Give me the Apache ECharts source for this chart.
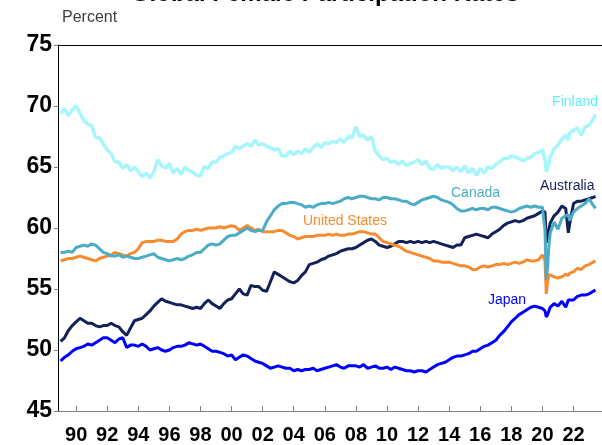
<!DOCTYPE html>
<html>
<head>
<meta charset="utf-8">
<script src="https://cdn.jsdelivr.net/npm/echarts@6/dist/echarts.min.js"></script>
<style>
  html, body { margin: 0; padding: 0; background: #fff; }
  #chart { width: 602px; height: 445px; }
</style>
</head>
<body>
<div id="chart"></div>
<script>
// sample months: quarterly to 2019, denser around the covid drop
const tailDates = ['2020-01', '2020-03', '2020-04', '2020-05', '2020-06', '2020-07', '2020-10',
  '2021-01', '2021-04', '2021-07', '2021-09', '2021-10',
  '2022-01', '2022-04', '2022-07', '2022-10',
  '2023-01', '2023-04', '2023-06']
const dates = []
for (let y = 1989; y <= 2019; y++) {
  ['01', '04', '07', '10'].forEach(m => dates.push(y + '-' + m))
}
tailDates.forEach(d => dates.push(d))

const finland = [
  69.4, 69.8, 69.2, 69.7,  70.0, 69.4, 68.8, 68.5,  68.4, 67.4, 67.4, 66.9,  66.4, 66.1, 65.4, 65.4,
  64.9, 65.2, 64.7, 65.0,  64.6, 64.2, 64.5, 64.1,  64.6, 65.6, 65.1, 64.9,  65.3, 64.5, 64.9, 64.4,
  65.0, 64.7, 64.6, 64.3,  64.3, 65.0, 64.9, 65.4,  65.4, 65.8, 65.9, 66.1,  66.2, 66.7, 66.5, 66.7,
  66.9, 66.7, 67.2, 66.8,  66.9, 66.7, 66.6, 66.4,  66.5, 65.9, 65.9, 66.3,  66.0, 66.3, 66.1, 66.5,
  66.2, 66.6, 66.9, 66.6,  67.0, 66.9, 67.1, 67.0,  67.3, 67.0, 67.5, 67.4,  68.3, 67.5, 67.6, 67.2,
  67.5, 66.3, 65.9, 65.6,  65.7, 65.4, 65.5, 65.2,  65.5, 65.1, 65.3, 65.4,  65.6, 65.2, 65.5, 64.9,
  64.8, 65.2, 64.9, 65.0,  65.0, 64.7, 65.0, 64.6,  65.1, 64.5, 64.9, 64.3,  64.9, 64.5, 65.0, 64.9,
  65.2, 65.4, 65.7, 65.7,  65.9, 65.8, 65.7, 65.5,  65.7, 65.8, 66.1, 66.2,
  66.4, 65.6, 64.6, 64.9, 65.3, 65.8, 66.5,
  66.8, 67.3, 67.6, 67.2, 67.8,
  68.0, 68.2, 67.6, 68.3,
  68.4, 68.9, 69.3
]
const canada = [
  58.0, 58.0, 58.1, 58.0,  58.4, 58.5, 58.6, 58.5,  58.7, 58.6, 58.3, 58.0,  57.9, 57.7, 57.7, 57.8,
  57.6, 57.7, 57.6, 57.5,  57.5, 57.6, 57.7, 57.8,  57.9, 57.6, 57.5, 57.4,  57.3, 57.4, 57.5, 57.4,
  57.5, 57.7, 57.8, 58.0,  58.0, 58.3, 58.6, 58.7,  58.6, 58.7, 59.0, 59.3,  59.4, 59.4, 59.6, 59.8,
  60.0, 59.8, 59.7, 59.8,  59.8, 60.5, 61.0, 61.5,  61.8, 62.0, 62.0, 62.1,  62.1, 62.0, 61.9, 61.7,
  61.8, 61.7, 61.9, 62.0,  62.0, 62.1, 62.0, 62.1,  62.2, 62.4, 62.5, 62.4,  62.5, 62.6, 62.6, 62.5,
  62.4, 62.4, 62.3, 62.5,  62.5, 62.4, 62.4, 62.3,  62.2, 62.2, 62.0, 61.9,  62.1, 62.3, 62.4, 62.5,
  62.6, 62.5, 62.3, 62.2,  62.1, 61.9, 61.6, 61.4,  61.4, 61.5, 61.6, 61.5,  61.6, 61.6, 61.5, 61.7,
  61.7, 61.6, 61.5, 61.4,  61.3, 61.4, 61.6, 61.7,  61.8, 61.7, 61.8, 61.7,
  61.7, 59.8, 55.8, 56.8, 58.6, 59.6, 60.5,
  59.9, 60.8, 61.0, 61.1, 60.6,
  61.3, 61.6, 61.8, 62.0,
  62.4, 61.9, 61.6
]
const australia = [
  50.7, 51.0, 51.6, 52.0,  52.3, 52.6, 52.4, 52.2,  52.2, 52.0, 51.9, 52.0,  52.0, 52.2, 52.0, 51.9,
  51.5, 51.2, 51.8, 52.4,  52.5, 52.6, 52.9, 53.2,  53.6, 53.9, 54.2, 54.0,  53.9, 53.8, 53.7, 53.7,
  53.6, 53.5, 53.4, 53.5,  53.4, 53.8, 54.1, 53.8,  53.6, 53.4, 53.8, 54.1,  54.2, 54.6, 55.0, 54.6,
  54.5, 55.3, 55.2, 55.2,  54.9, 54.8, 55.6, 56.4,  56.2, 56.0, 55.8, 55.6,  55.5, 55.7, 56.1, 56.4,
  57.0, 57.1, 57.2, 57.4,  57.5, 57.7, 57.8, 57.9,  58.1, 58.2, 58.3, 58.3,  58.4, 58.6, 58.8, 59.0,
  59.1, 58.9, 58.6, 58.5,  58.4, 58.5, 58.7, 58.9,  58.9, 58.8, 58.9, 58.8,  58.9, 58.8, 58.9, 58.8,
  58.9, 58.8, 58.7, 58.6,  58.5, 58.4, 58.6, 58.6,  59.2, 59.3, 59.4, 59.5,  59.4, 59.3, 59.2, 59.5,
  59.7, 59.9, 60.2, 60.4,  60.5, 60.6, 60.5, 60.6,  60.8, 60.9, 61.0, 61.2,
  61.4, 61.3, 58.8, 58.7, 59.9, 60.4, 61.0,
  61.3, 61.8, 61.6, 59.6, 60.3,
  62.0, 62.2, 62.2, 62.3,
  62.4, 62.5, 62.6
]
const unitedStates = [
  57.3, 57.4, 57.5, 57.5,  57.6, 57.7, 57.6, 57.5,  57.4, 57.3, 57.5, 57.6,  57.7, 57.8, 58.0, 57.9,
  57.8, 57.7, 57.9, 58.0,  58.3, 58.8, 58.9, 58.9,  58.9, 59.0, 59.0, 58.9,  58.9, 58.9, 59.1, 59.5,
  59.7, 59.8, 59.8, 59.9,  59.8, 59.9, 60.0, 60.0,  60.0, 60.1, 60.0, 60.1,  60.2, 60.1, 59.8, 60.0,
  60.2, 60.0, 59.8, 59.9,  59.7, 59.7, 59.7, 59.7,  59.8, 59.8, 59.6, 59.4,  59.3, 59.1, 59.2, 59.3,
  59.3, 59.3, 59.4, 59.4,  59.4, 59.5, 59.4, 59.5,  59.4, 59.4, 59.5, 59.5,  59.6, 59.7, 59.7, 59.6,
  59.5, 59.5, 59.2, 58.9,  58.8, 58.7, 58.6, 58.5,  58.3, 58.1, 58.0, 57.9,  57.8, 57.7, 57.6, 57.5,
  57.3, 57.3, 57.2, 57.2,  57.2, 57.1, 57.0, 56.9,  56.9, 56.8, 56.6, 56.6,  56.8, 56.9, 56.8, 56.9,
  57.0, 57.0, 57.1, 57.0,  57.1, 57.2, 57.1, 57.2,  57.4, 57.3, 57.3, 57.4,
  57.8, 57.3, 54.6, 55.6, 56.2, 56.1, 56.0,
  55.9, 56.0, 56.2, 56.1, 56.3,
  56.4, 56.7, 56.6, 56.9,
  57.0, 57.2, 57.3
]
const japan = [
  49.1, 49.4, 49.6, 49.9,  50.1, 50.2, 50.3, 50.5,  50.4, 50.6, 50.8, 51.0,  51.0, 50.8, 50.6, 50.9,
  51.0, 50.2, 50.4, 50.4,  50.3, 50.5, 50.3, 50.0,  50.1, 50.2, 50.0, 49.9,  50.0, 50.2, 50.3, 50.3,
  50.4, 50.6, 50.5, 50.4,  50.5, 50.3, 50.1, 49.9,  49.9, 49.8, 49.7, 49.5,  49.6, 49.2, 49.4, 49.6,
  49.5, 49.3, 49.1, 49.0,  48.9, 48.7, 48.5, 48.6,  48.7, 48.6, 48.5, 48.5,  48.3, 48.4, 48.3, 48.4,
  48.4, 48.5, 48.3, 48.4,  48.5, 48.6, 48.7, 48.8,  48.6, 48.5, 48.7, 48.7,  48.7, 48.6, 48.8, 48.5,
  48.6, 48.7, 48.5, 48.5,  48.6, 48.4, 48.6, 48.5,  48.4, 48.3, 48.3, 48.2,  48.3, 48.3, 48.2, 48.4,
  48.6, 48.8, 48.9, 49.0,  49.2, 49.4, 49.5, 49.5,  49.6, 49.7, 49.9, 49.9,  50.1, 50.3, 50.4, 50.6,
  50.8, 51.2, 51.5, 51.9,  52.3, 52.6, 52.9, 53.1,  53.3, 53.5, 53.6, 53.5,
  53.4, 53.2, 52.7, 52.9, 53.2, 53.5, 53.8,
  53.6, 54.0, 53.5, 54.1, 54.2,
  54.1, 54.4, 54.5, 54.5,
  54.6, 54.8, 54.9
]

const yTicks = [45, 50, 55, 60, 65, 70, 75]

// monthly category axis, Nov 1988 to Nov 2023
const months = []
for (let y = 1988; y <= 2023; y++) {
  for (let m = 1; m <= 12; m++) {
    if ((y === 1988 && m < 11) || (y === 2023 && m > 11)) continue
    months.push(y + '-' + (m < 10 ? '0' + m : m))
  }
}

function pairs(values) {
  return dates.map((d, i) => [d, values[i]])
}

function isLabelMonth(index, value) {
  return value.slice(5) === '01' && Number(value.slice(0, 4)) % 2 === 0
}

const chartDom = document.getElementById('chart')
const myChart = echarts.init(chartDom)
const font = 'Liberation Sans, Arial, sans-serif'

function makeLine(name, values, color, width) {
  return {
    name: name,
    type: 'line',
    data: pairs(values),
    symbol: 'none',
    lineStyle: {color: color, width: width},
    itemStyle: {color: color}
  }
}

function label(x, y, text, color, align) {
  return {
    type: 'text', x: x, y: y, silent: true,
    style: {text: text, fill: color, font: '14px ' + font, align: align || 'left', verticalAlign: 'middle'}
  }
}

const option = {
  animation: false,
  textStyle: {fontFamily: font},
  grid: {left: 58, right: 0, top: 45, bottom: 33},
  xAxis: [
    {
      type: 'category',
      data: months,
      boundaryGap: false,
      axisLine: {lineStyle: {color: '#808080', width: 1}},
      axisTick: {inside: true, length: 5, interval: isLabelMonth, lineStyle: {color: '#808080'}},
      axisLabel: {
        interval: isLabelMonth,
        formatter: value => value.slice(2, 4),
        color: '#000',
        fontWeight: 'bold',
        fontSize: 20,
        margin: 14
      },
      splitLine: {show: false}
    },
    {
      type: 'category',
      data: months,
      boundaryGap: false,
      position: 'top',
      axisLine: {lineStyle: {color: '#000', width: 1}},
      axisTick: {show: false},
      axisLabel: {show: false}
    }
  ],
  yAxis: {
    type: 'value',
    min: yTicks[0],
    max: yTicks[yTicks.length - 1],
    interval: 5,
    axisLine: {show: true, lineStyle: {color: '#000'}},
    axisTick: {show: true, length: 4, lineStyle: {color: '#808080'}},
    axisLabel: {color: '#000', fontWeight: 'bold', fontSize: 23, margin: 6},
    splitLine: {show: false}
  },
  series: [
    makeLine('Japan', japan, '#0000ff', 3),
    makeLine('Australia', australia, '#13215a', 3),
    makeLine('United States', unitedStates, '#f68b30', 3),
    makeLine('Canada', canada, '#4aacc6', 3),
    makeLine('Finland', finland, '#a6f6fb', 3.5)
  ],
  graphic: [
    {type: 'text', x: 325, y: 6, silent: true,
      style: {text: 'Global Female Participation Rates', fill: '#000',
        font: 'bold 24px ' + font, align: 'center', verticalAlign: 'bottom'}},
    {type: 'text', x: 62, y: 18, silent: true,
      style: {text: 'Percent', fill: '#404040', font: '16px ' + font, verticalAlign: 'middle'}},
    label(598, 102, 'Finland', '#5ff0f8', 'right'),
    label(451, 193, 'Canada', '#4aacc6'),
    label(540, 186, 'Australia', '#13215a'),
    label(303, 221, 'United States', '#f68b30'),
    label(488, 300, 'Japan', '#0000ff')
  ]
}
option && myChart.setOption(option)
</script>
</body>
</html>
